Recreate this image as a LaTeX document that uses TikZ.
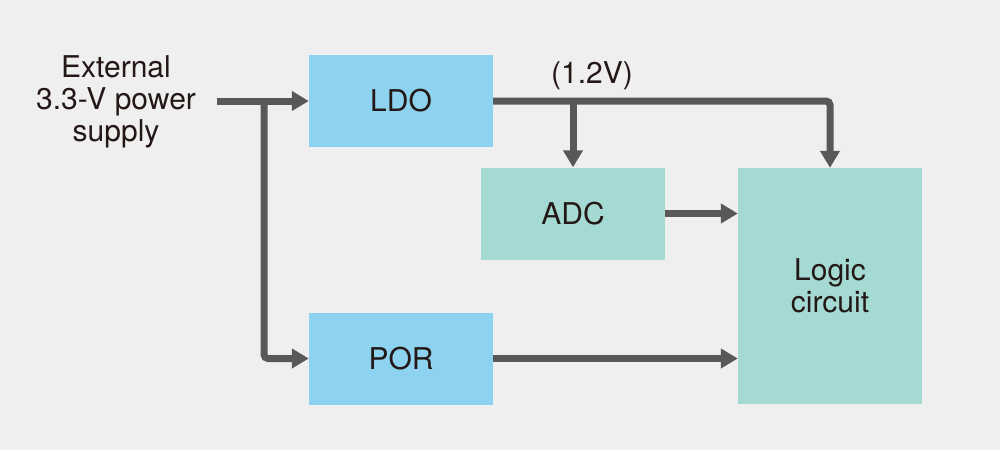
\documentclass[tikz,border=0pt]{standalone}
\usepackage{fontspec}
\setmainfont{TeX Gyre Heros}
\usetikzlibrary{arrows.meta}
\definecolor{bg}{HTML}{EFEFEF}
\definecolor{boxblue}{HTML}{8DD3F0}
\definecolor{boxteal}{HTML}{A5D9D3}
\definecolor{wire}{HTML}{595757}
\definecolor{txt}{HTML}{231815}
\begin{document}
\begin{tikzpicture}[x=1pt,y=-1pt,
  every node/.style={font=\fontsize{30}{32}\selectfont, text=txt},
  bluebox/.style={fill=boxblue, draw=none, minimum width=184pt, minimum height=92pt, inner sep=0pt},
  tealbox/.style={fill=boxteal, draw=none, minimum width=184pt, minimum height=92pt, inner sep=0pt},
  conn/.style={draw=wire, line width=7pt, rounded corners=4pt, -{Triangle[length=17pt,width=19pt]}}]
\fill[bg] (0,0) rectangle (1000,450);
\useasboundingbox (0,0) rectangle (1000,450);
\node[bluebox] (ldo) at (401,101) {LDO};
\node[tealbox] (adc) at (573,213.5) {ADC};
\node[tealbox, minimum height=236pt, align=center] (logic) at (830,286) {Logic\\circuit};
\node[bluebox] (por) at (401,358.5) {POR};
\node[align=center] (ext) at (116,102) {External\\3.3-V power\\supply};
\node (v) at (592,76) {(1.2V)};
\coordinate (src) at (217,101);
\coordinate (br) at (264,101);
\coordinate (br2) at (573,101);
\draw[conn] (src) -- (ldo.west);
\draw[conn] (br) |- (por.west);
\draw[conn] (ldo.east) -| (logic.north);
\draw[conn] (br2) -- (adc.north);
\draw[conn] (adc.east) -- (adc.east -| logic.west);
\draw[conn] (por.east) -- (por.east -| logic.west);
\end{tikzpicture}
\end{document}
